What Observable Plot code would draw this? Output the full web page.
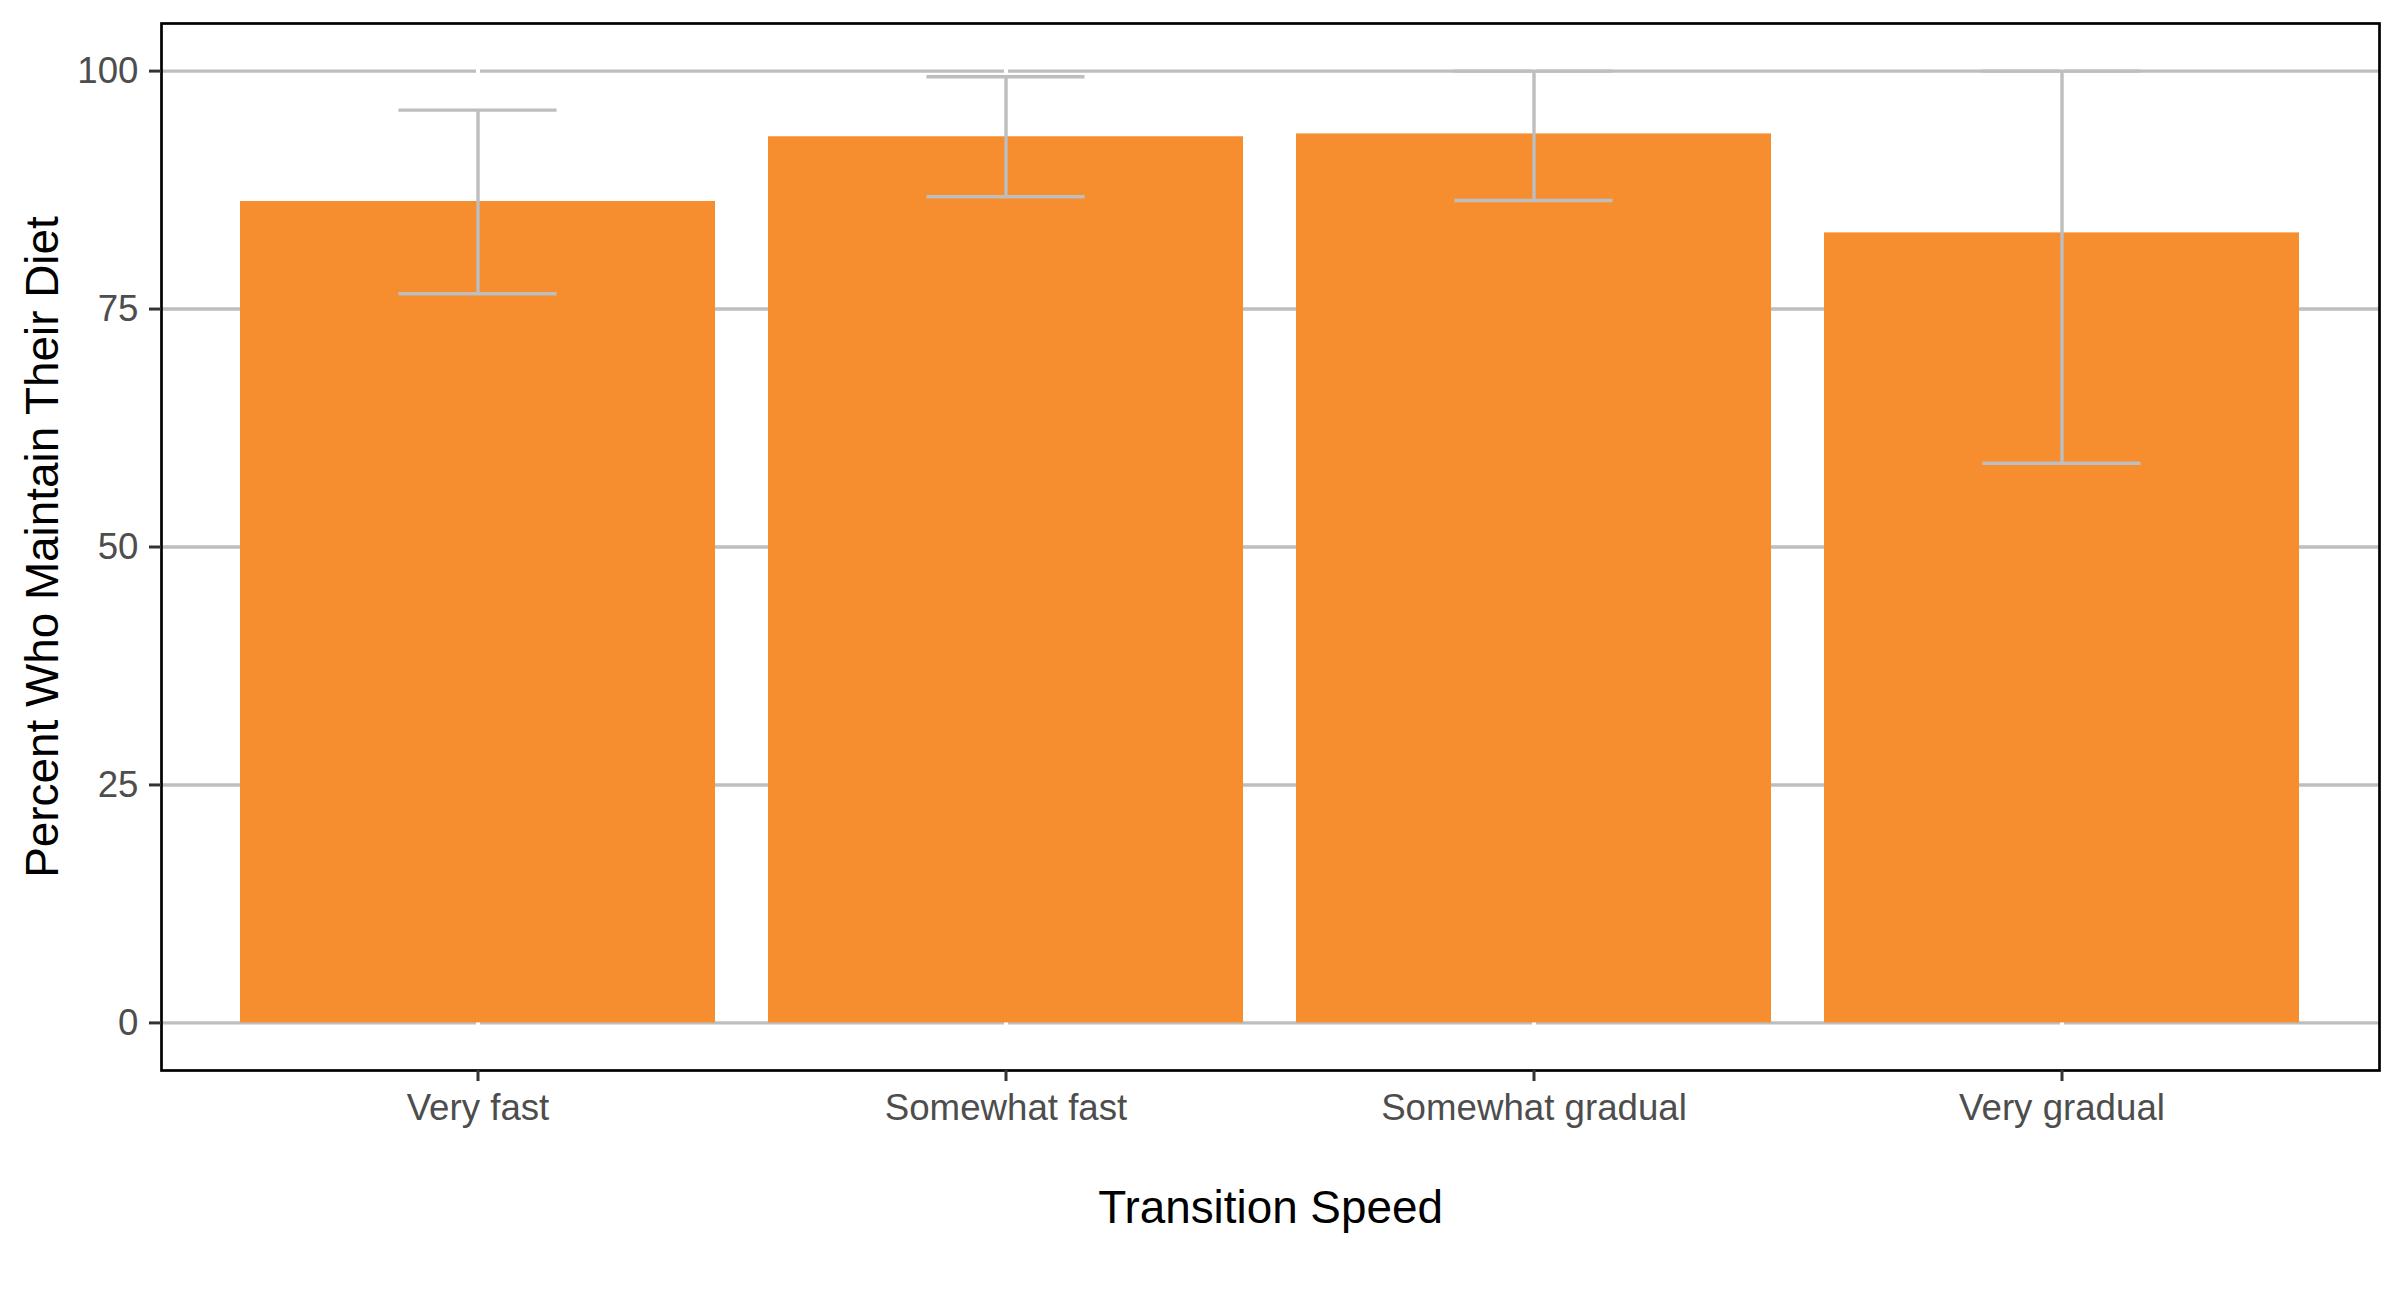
<!DOCTYPE html>
<html>
<head>
<meta charset="utf-8">
<script src="https://cdn.jsdelivr.net/npm/d3@7"></script>
<script src="https://cdn.jsdelivr.net/npm/@observablehq/plot@0.6"></script>
<style>
  html, body { margin: 0; padding: 0; background: white; }
  #chart svg { display: block; }
</style>
</head>
<body>
<div id="chart"></div>
<script>
const categories = ["Very fast", "Somewhat fast", "Somewhat gradual", "Very gradual"];
const meanPct = [86.3, 93.1, 93.4, 83.0];
const lowerPct = [76.6, 86.8, 86.4, 58.8];
const upperPct = [95.9, 99.4, 100, 100];
const yTicks = [0, 25, 50, 75, 100];

const data = categories.map((c, i) => ({speed: c, mean: meanPct[i], lower: lowerPct[i], upper: upperPct[i]}));

const W = 2400, H = 1303;
const mL = 161, mR = 21, mT = 23, mB = 233;
const step = (W - mL - mR) / 4.2;
const capInset = 0.3 * step;

const barColor = "#F68D2E";
const gridColor = "#BEBEBE";
const errColor = "#BEBEBE";
const font = "'Liberation Sans', Arial, Helvetica, sans-serif";

const chart = Plot.plot({
  width: W,
  height: H,
  marginLeft: mL,
  marginRight: mR,
  marginTop: mT,
  marginBottom: mB,
  style: {fontFamily: font, background: "white", overflow: "visible"},
  x: {domain: categories, paddingInner: 0.1, paddingOuter: 0.15, align: 0.5},
  y: {domain: [-5, 105]},
  marks: [
    Plot.gridY(yTicks, {stroke: gridColor, strokeOpacity: 1, strokeWidth: 3.4}),
    Plot.gridX(categories, {stroke: "white", strokeOpacity: 1, strokeWidth: 4}),
    Plot.barY(data, {x: "speed", y: "mean", fill: barColor}),
    Plot.ruleX(data, {x: "speed", y1: "lower", y2: "upper", stroke: errColor, strokeWidth: 3.4}),
    Plot.tickY(data, {x: "speed", y: "lower", stroke: errColor, strokeWidth: 3.4, insetLeft: capInset, insetRight: capInset}),
    Plot.tickY(data, {x: "speed", y: "upper", stroke: errColor, strokeWidth: 3.4, insetLeft: capInset, insetRight: capInset}),
    Plot.frame({stroke: "black", strokeWidth: 2.7}),
    Plot.axisY(yTicks, {tickSize: 12, tickPadding: 11, fontSize: 36.67, stroke: "#333333", fill: "#4D4D4D", strokeWidth: 3, label: null}),
    Plot.axisX(categories, {tickSize: 11, tickPadding: 12, fontSize: 36.67, stroke: "#333333", fill: "#4D4D4D", strokeWidth: 3, label: null}),
    Plot.text(["Transition Speed"], {frameAnchor: "bottom", textAnchor: "middle", lineAnchor: "bottom", dy: 152, fontSize: 45.83, fill: "black"}),
    Plot.text(["Percent Who Maintain Their Diet"], {frameAnchor: "left", textAnchor: "middle", lineAnchor: "bottom", rotate: -90, dx: -104, fontSize: 45.83, fill: "black"})
  ]
});

document.getElementById("chart").appendChild(chart);
</script>
</body>
</html>
